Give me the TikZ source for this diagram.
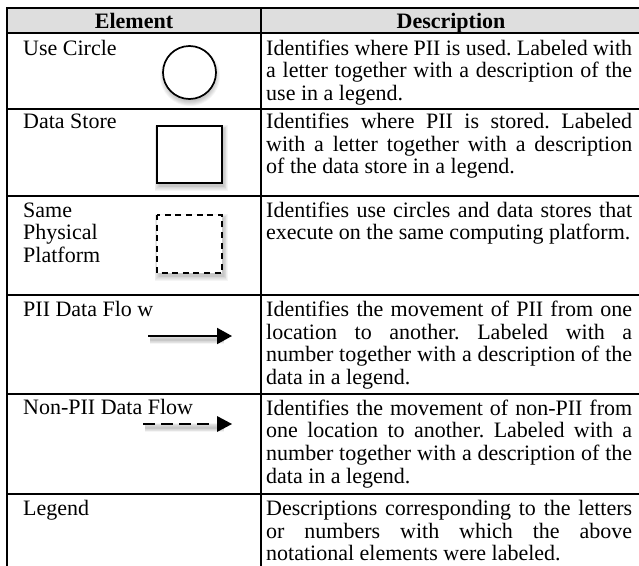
\documentclass[tikz,border=0pt]{standalone}
\usepackage{fontspec}
\setmainfont{Liberation Serif}
\usetikzlibrary{arrows.meta}
\frenchspacing

\tikzset{
  rule/.style={line width=2pt},
  celltext/.style={anchor=base west, inner sep=0pt, font=\fontsize{22}{26}\selectfont},
  headtext/.style={anchor=base, inner sep=0pt, font=\bfseries\fontsize{22}{26}\selectfont},
  symbol/.style={line width=1.9pt, line join=miter},
  haze/.style={black, opacity=0.04},
  pointer/.style={-{Triangle[length=15pt,width=16pt]}},
}
% a justified line of the description column
\newcommand\jline[1]{\hbox to 366pt{#1}}

\begin{document}
\begin{tikzpicture}[x=1pt, y=-1pt]
  \useasboundingbox (0,0) rectangle (639,565);
  \clip (0,0) rectangle (639,565);

  % header band
  \fill[black!13] (7,8) rectangle (645,33);

  % soft shadows under the notation symbols
  \foreach \k in {0,...,5} {
    \pgfmathsetmacro\w{2+\k*1.4}
    \fill[haze] (190,76) circle ({25.5+\k*0.9});
    \fill[haze] ({158.5-\k*0.8},{129-\k*0.8}) rectangle ({224+\k*0.8},{186.5+\k*0.8});
    \fill[haze] ({158.5-\k*0.8},{218-\k*0.8}) rectangle ({224+\k*0.8},{276.5+\k*0.8});
    \draw[haze, line width=\w pt] (150,339.5) -- (224,339.5);
    \draw[haze, line width=\w pt] (145,427.5) -- (224,427.5);
  }

  % table rules (the right and bottom edges lie just past the page)
  \foreach \y in {8,33,109,196,295,394,494,571}
    \draw[rule] (6,\y) -- (645,\y);
  \foreach \x in {7,261,645}
    \draw[rule] (\x,7) -- (\x,572);

  % header
  \node[headtext] (hElem) at (134,28) {Element};
  \node[headtext] (hDesc) at (451,28) {Description};

  % Use Circle
  \node[celltext] (e1) at (23,55) {Use Circle};
  \draw[symbol, fill=white, line width=1.7pt] (189.5,72.5) circle (26.5);
  \node[celltext] (d1a) at (266,55)   {\jline{Identifies where PII is used. Labeled with}};
  \node[celltext] (d1b) at (266,77.5) {\jline{a letter together with a description of the}};
  \node[celltext] (d1c) at (266,100)  {use in a legend.};

  % Data Store
  \node[celltext] (e2) at (23,128.5) {Data Store};
  \draw[symbol, fill=white] (157,126) rectangle (222,183);
  \node[celltext] (d2a) at (266,128.5) {\jline{Identifies where PII is stored. Labeled}};
  \node[celltext] (d2b) at (266,151)   {\jline{with a letter together with a description}};
  \node[celltext] (d2c) at (266,173.5) {of the data store in a legend.};

  % Same Physical Platform
  \node[celltext] (e3a) at (23,217)   {Same};
  \node[celltext] (e3b) at (23,239.5) {Physical};
  \node[celltext] (e3c) at (23,262)   {Platform};
  \fill[white] (157,215) rectangle (222,273);
  \draw[symbol, line width=1.8pt, dash pattern=on 6pt off 4.6pt, dash phase=1pt]
    (157,215) rectangle (222,273);
  \node[celltext] (d3a) at (266,217)   {\jline{Identifies use circles and data stores that}};
  \node[celltext] (d3b) at (266,239.5) {execute on the same computing platform.};

  % PII Data Flow
  \node[celltext] (e4) at (23,316) {PII Data Flo w};
  \coordinate (p1) at (148,336);
  \coordinate (p2) at (232,336);
  \draw[symbol, line width=2pt, pointer] (p1) -- (p2);
  \node[celltext] (d4a) at (266,316.5) {\jline{Identifies the movement of PII from one}};
  \node[celltext] (d4b) at (266,339.2) {\jline{location to another. Labeled with a}};
  \node[celltext] (d4c) at (266,361.9) {\jline{number together with a description of the}};
  \node[celltext] (d4d) at (266,384.6) {data in a legend.};

  % Non-PII Data Flow
  \node[celltext] (e5) at (23,414.5) {Non-PII Data Flow};
  \coordinate (q1) at (143,424);
  \coordinate (q2) at (211.5,424);
  \coordinate (qt) at (232,424);
  \draw[line width=2.3pt, dash pattern=on 11.5pt off 6.5pt] (q1) -- (q2);
  \fill (qt) -- ++(-15,-8) -- ++(0,16) -- cycle;
  \node[celltext] (d5a) at (266,415)   {\jline{Identifies the movement of non-PII from}};
  \node[celltext] (d5b) at (266,437.7) {\jline{one location to another. Labeled with a}};
  \node[celltext] (d5c) at (266,460.4) {\jline{number together with a description of the}};
  \node[celltext] (d5d) at (266,483.1) {data in a legend.};

  % Legend
  \node[celltext] (e6) at (23,515.5) {Legend};
  \node[celltext] (d6a) at (266,515.5) {\jline{Descriptions corresponding to the letters}};
  \node[celltext] (d6b) at (266,538)   {\jline{or numbers with which the above}};
  \node[celltext] (d6c) at (266,560)   {notational elements were labeled.};
\end{tikzpicture}
\end{document}
